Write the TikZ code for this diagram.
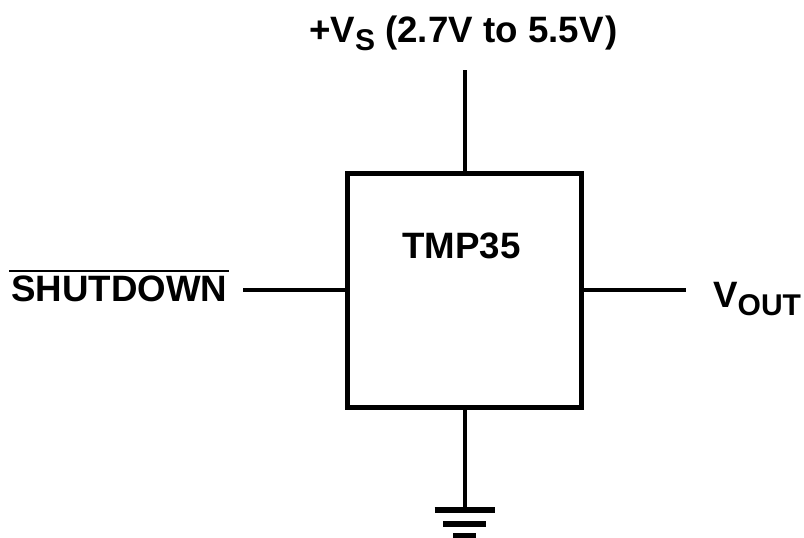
\documentclass[tikz,border=0pt]{standalone}
\usepackage{fontspec}
\setmainfont{Liberation Sans}
\newcommand{\subtxt}[1]{\raisebox{-8pt}{\fontsize{30}{33}\selectfont #1}}
\begin{document}
\begin{tikzpicture}[x=1pt,y=-1pt,
  wire/.style={line width=4pt},
  boxline/.style={line width=5pt},
  lbl/.style={font=\bfseries\fontsize{36.7}{40}\selectfont,inner sep=0pt,text=black}]
\useasboundingbox (0,0) rectangle (804,538);
\node[boxline,draw,minimum width=234pt,minimum height=234pt,inner sep=0pt] (box) at (464.5,290) {};
\node[lbl,anchor=base west] (name) at (402,258) {TMP35};
\node[lbl,anchor=base west] (vs) at (309,42) {+V\subtxt{S} (2.7V to 5.5V\kern2pt)};
\node[lbl,anchor=base west] (sd) at (11,301) {SHUTDOWN};
\node[lbl,anchor=base west] (vo) at (713,307) {V\subtxt{OUT}};
\coordinate (top) at (464.5,70);
\coordinate (left) at (243,290);
\coordinate (right) at (686,290);
\coordinate (gnd) at (464.5,510);
\coordinate (b1) at (464.5,524);
\coordinate (b2) at (464.5,535);
\draw[wire] (top) -- (box.north);
\draw[wire] (left) -- (box.west);
\draw[wire] (box.east) -- (right);
\draw[wire] (box.south) -- (gnd);
\draw[line width=6pt] ([xshift=-30pt]gnd) -- ([xshift=30pt]gnd);
\draw[line width=6pt] ([xshift=-21.5pt]b1) -- ([xshift=21.5pt]b1);
\draw[line width=5pt] ([xshift=-11.5pt]b2) -- ([xshift=11.5pt]b2);
\draw[line width=2.5pt] (9,271) -- (229,271);
\end{tikzpicture}
\end{document}
